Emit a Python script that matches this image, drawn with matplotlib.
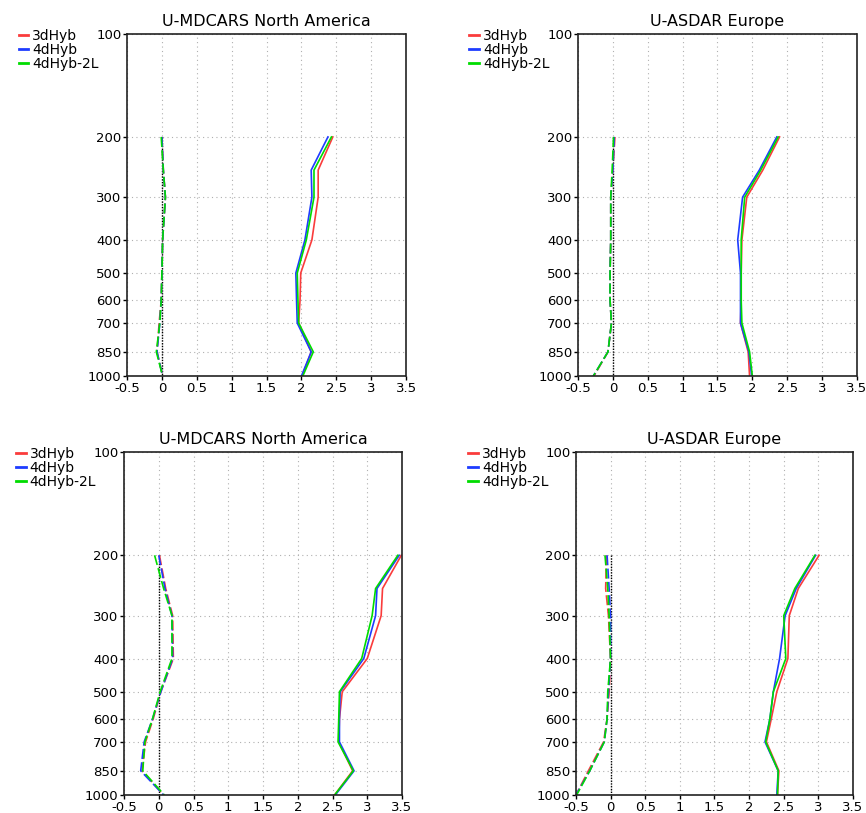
import matplotlib
matplotlib.use("Agg")
import matplotlib.pyplot as plt
import numpy as np

plt.rcParams['font.family'] = ['DejaVu Sans']

levels = [200, 250, 300, 400, 500, 600, 700, 850, 1000]
exps = ['3dHyb', '4dHyb', '4dHyb-2L']
colors = ['#fa3c3c', '#1e3cff', '#00dc00']
titles = ['U-MDCARS North America', 'U-ASDAR Europe',
          'U-MDCARS North America', 'U-ASDAR Europe']

# rms (solid) per panel, per experiment
rms_p1 = [[2.45, 2.24, 2.24, 2.15, 1.99, 1.98, 1.96, 2.14, 2.01],
          [2.38, 2.14, 2.15, 2.05, 1.92, 1.93, 1.94, 2.14, 2.00],
          [2.43, 2.18, 2.18, 2.07, 1.94, 1.95, 1.96, 2.17, 2.02]]
rms_p2 = [[2.39, 2.15, 1.92, 1.85, 1.84, 1.84, 1.83, 1.94, 1.96],
          [2.35, 2.10, 1.86, 1.79, 1.83, 1.83, 1.83, 1.95, 1.99],
          [2.37, 2.12, 1.89, 1.84, 1.84, 1.84, 1.85, 1.96, 2.00]]
rms_p3 = [[3.49, 3.22, 3.20, 3.00, 2.64, 2.60, 2.59, 2.79, 2.53],
          [3.46, 3.14, 3.12, 2.95, 2.61, 2.60, 2.60, 2.81, 2.54],
          [3.44, 3.12, 3.07, 2.92, 2.60, 2.59, 2.58, 2.80, 2.53]]
rms_p4 = [[3.01, 2.71, 2.58, 2.56, 2.40, 2.32, 2.25, 2.43, 2.41],
          [2.96, 2.68, 2.52, 2.44, 2.35, 2.30, 2.23, 2.42, 2.40],
          [2.95, 2.66, 2.50, 2.53, 2.35, 2.30, 2.24, 2.42, 2.41]]

# bias (dashed)
bias_p1 = [[0.00, 0.02, 0.05, 0.01, 0.00, -0.01, -0.04, -0.07, 0.01],
           [0.00, 0.02, 0.05, 0.01, 0.00, -0.01, -0.03, -0.07, 0.01],
           [-0.01, 0.02, 0.05, 0.01, 0.00, -0.01, -0.03, -0.08, 0.01]]
bias_p2 = [[0.03, 0.00, -0.03, -0.03, -0.04, -0.04, -0.02, -0.07, -0.27],
           [0.02, 0.00, -0.03, -0.03, -0.04, -0.04, -0.02, -0.07, -0.28],
           [0.01, -0.01, -0.03, -0.03, -0.04, -0.04, -0.02, -0.07, -0.28]]
bias_p3 = [[0.01, 0.10, 0.20, 0.21, 0.03, -0.08, -0.19, -0.24, 0.07],
           [0.00, 0.09, 0.19, 0.20, 0.03, -0.09, -0.21, -0.26, 0.07],
           [-0.06, 0.07, 0.19, 0.19, 0.02, -0.09, -0.20, -0.23, 0.08]]
bias_p4 = [[-0.06, -0.07, -0.03, 0.00, -0.02, -0.05, -0.10, -0.32, -0.50],
           [-0.05, -0.02, 0.00, 0.00, -0.03, -0.05, -0.09, -0.30, -0.50],
           [-0.08, -0.04, -0.02, 0.00, -0.04, -0.05, -0.09, -0.30, -0.49]]

rms_all = [rms_p1, rms_p2, rms_p3, rms_p4]
bias_all = [bias_p1, bias_p2, bias_p3, bias_p4]

yticks = [100, 200, 300, 400, 500, 600, 700, 850, 1000]
xticks = np.arange(-0.5, 3.51, 0.5)
xlabels = ['-0.5', '0', '0.5', '1', '1.5', '2', '2.5', '3', '3.5']

positions = [[0.1467, 0.5375, 0.3222, 0.4207],
             [0.6674, 0.5375, 0.3222, 0.4207],
             [0.1432, 0.0221, 0.3210, 0.4219],
             [0.6650, 0.0221, 0.3200, 0.4219]]

fig = plt.figure(figsize=(8.66, 8.13), dpi=100)

for k in range(4):
    ax = fig.add_axes(positions[k])
    ax.set_yscale('log')
    ax.set_ylim(1000, 100)
    ax.set_xlim(-0.5, 3.5)
    ax.set_yticks(yticks)
    ax.set_yticklabels([str(t) for t in yticks], fontsize=9.5)
    ax.minorticks_off()
    ax.set_xticks(xticks)
    ax.set_xticklabels(xlabels, fontsize=9.5)
    ax.tick_params(direction='out', length=3, width=1, pad=1)
    ax.grid(True, linestyle=(0, (1, 3)), color='#b0b0b0', linewidth=0.8)
    for s in ax.spines.values():
        s.set_linestyle((0, (2, 1)))
        s.set_linewidth(1.2)
        s.set_color('#222222')

    ax.plot([0, 0], [levels[0], levels[-1]], color='black',
            linestyle=(0, (1, 1)), linewidth=1.0)

    for i in range(3):
        ax.plot(rms_all[k][i], levels, color=colors[i], linewidth=1.2,
                label=exps[i])
        ax.plot(bias_all[k][i], levels, color=colors[i], linewidth=1.2,
                linestyle=(0, (6, 2)))

    ax.set_title(titles[k], fontsize=11.5, pad=6)
    leg = ax.legend(loc='upper left', bbox_to_anchor=(-0.389, 1.015),
                    frameon=False, fontsize=10, handlelength=0.7,
                    handletextpad=0.3, labelspacing=0.0, borderaxespad=0,
                    borderpad=0)
    for h in leg.get_lines():
        h.set_linewidth(2)

fig.savefig('out.png', dpi=100)
